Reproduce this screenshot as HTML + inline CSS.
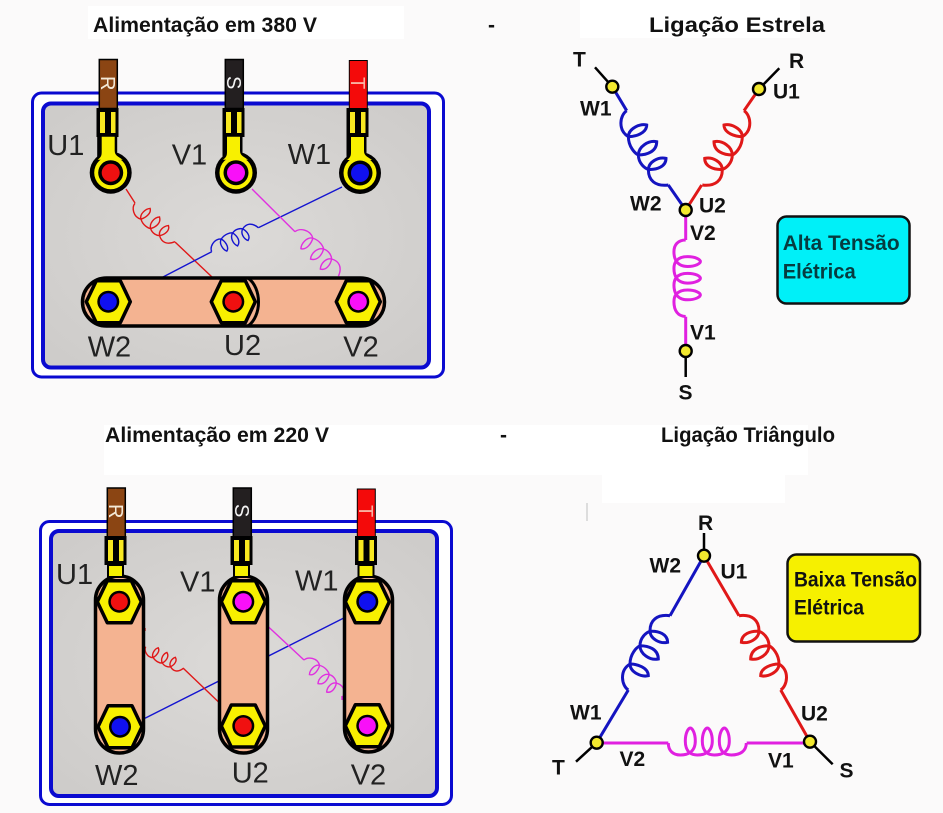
<!DOCTYPE html>
<html><head><meta charset="utf-8"><style>
html,body{margin:0;padding:0;background:#fbfafa}
svg{display:block}
.p{font-family:"Liberation Sans",sans-serif;font-size:29px;fill:#222}
.b{font-family:"Liberation Sans",sans-serif;font-size:21px;font-weight:bold;fill:#111}
.t{font-family:"Liberation Sans",sans-serif;font-size:21px;font-weight:bold;fill:#111}
.w{font-family:"Liberation Sans",sans-serif;font-size:20px}
.c{fill:none;vector-effect:non-scaling-stroke}
</style></head><body>
<svg xmlns="http://www.w3.org/2000/svg" width="943" height="813" viewBox="0 0 943 813">
<defs>
<radialGradient id="g" cx="50%" cy="50%" r="70%"><stop offset="0" stop-color="#dcdad8"/><stop offset="1" stop-color="#cdcbc9"/></radialGradient>
<path id="coil" class="c" d="M0,0C0,8 5,12 12,12C18,12 27,10 27,-2C27,-10 24,-15 22,-15C20,-15 17,-10 17,-2C17,10 24,12 29,12C35,12 44,10 44,-2C44,-10 41,-15 39,-15C37,-15 34,-10 34,-2C34,10 41,12 46,12C52,12 61,10 61,-2C61,-10 58,-15 56,-15C54,-15 51,-10 51,-2C51,10 58,12 63,12C72,12 78,8 78,0"/>
<path id="leaf" class="c" d="M0,0C-6.700,4.300 -9.300,19.300 1.700,26C8.300,26 20,22.700 20,14.300C13.300,12.700 1.700,17.700 1.700,26C1.700,36 8.300,42.700 11.700,44.300C20,44.300 30,41 30,31C21.700,29.300 11.700,36 11.700,44.300C11.700,52.700 18.300,57.700 21.700,58.700C30,59.300 39.300,56 39.300,47.700C31.700,46 21.700,51 21.700,59.300C21.700,69.300 28.300,76 41.700,74.300"/>
<g id="nut"><polygon points="-22,0 -12,-21 12,-21 22,0 12,21 -12,21" fill="#f8f000" stroke="#000" stroke-width="3.5" stroke-linejoin="round"/><circle r="11" fill="#000"/></g>
<g id="crimp"><rect x="-11" y="0" width="22" height="29" fill="#000"/><rect x="-7.5" y="4" width="5" height="21" fill="#f8e820"/><rect x="3.5" y="4" width="4.5" height="21" fill="#f8e820"/><rect x="-1" y="0" width="2" height="29" fill="#000"/></g>
<g id="lug"><rect x="-13.5" y="-38" width="20" height="30" fill="#000"/><circle r="21" fill="#000"/><path d="M-9,-36H4V-22C4,-17 8,-16 12,-13L-13,-13C-9,-16 -9,-18 -9,-22Z" fill="#f8f000"/><circle r="16.5" fill="#f8f000"/><circle r="12.5" fill="#000"/></g>
<g id="pt"><circle r="6" fill="#f2e82e" stroke="#000" stroke-width="2.4"/></g>
</defs>

<rect width="943" height="813" fill="#fbfafa"/>
<rect x="88" y="6" width="316" height="33" fill="#fff"/>
<rect x="580" y="0" width="220" height="38" fill="#fff"/>
<rect x="104" y="425" width="704" height="50" fill="#fff"/>
<rect x="602" y="475" width="183" height="28" fill="#fff"/>
<rect x="586" y="503" width="2" height="18" fill="#ddd"/>

<text class="t" x="93" y="32" textLength="224" lengthAdjust="spacingAndGlyphs">Alimentação em 380 V</text>
<text class="t" x="488" y="32">-</text>
<text class="t" x="649" y="32" textLength="176" lengthAdjust="spacingAndGlyphs">Ligação Estrela</text>
<text class="t" x="105" y="442" textLength="224" lengthAdjust="spacingAndGlyphs">Alimentação em 220 V</text>
<text class="t" x="500" y="442">-</text>
<text class="t" x="661" y="442" textLength="174" lengthAdjust="spacingAndGlyphs">Ligação Triângulo</text>

<!-- TOP PANEL -->
<rect x="32.5" y="93" width="411" height="284" rx="9" fill="#fff" stroke="#0a0ad0" stroke-width="3"/>
<rect x="43" y="103.500" width="386" height="264" rx="8" fill="url(#g)" stroke="#0a0ad0" stroke-width="4"/>

<g fill="none" stroke-width="1.400">
<g stroke="#e01818"><path d="M126,189L135,203M175,242L212,277"/><use href="#leaf" transform="translate(135,203.300) rotate(-16.900) scale(.65)"/></g>
<g stroke="#1414d0"><path d="M342,187L258.300,227.700M211.700,251.700L163,277"/><use href="#leaf" transform="translate(211.700,251.700) rotate(-146.600) scale(-.615,.615)"/></g>
<g stroke="#e030e0"><path d="M252,189L295,231.700"/><use href="#leaf" transform="translate(295,231.700) rotate(-73.600) scale(-.73,.73)"/></g>
</g>

<rect x="82.500" y="278" width="302" height="48" rx="24" fill="#f4b391" stroke="#000" stroke-width="3.500"/>
<path d="M248,278C262,288 262,316 248,326" fill="#f4b391" stroke="#000" stroke-width="3"/>
<use href="#nut" x="108.300" y="301.700"/><circle cx="108.300" cy="301.700" r="8.500" fill="#1010f0"/>
<use href="#nut" x="233.300" y="301.700"/><circle cx="233.300" cy="301.700" r="8.500" fill="#f01010"/>
<use href="#nut" x="358.300" y="301.700"/><circle cx="358.300" cy="301.700" r="8.500" fill="#f810f8"/>

<rect x="99.300" y="59.500" width="18" height="49" fill="#8b4513" stroke="#000" stroke-width="1.500"/>
<rect x="225.300" y="59.500" width="18" height="49" fill="#231f20" stroke="#000" stroke-width="1.500"/>
<rect x="349.300" y="60.500" width="18" height="48" fill="#f40a0a" stroke="#000" stroke-width="1"/>
<text class="w" fill="#f4ead8" transform="translate(101,76) rotate(90)">R</text>
<text class="w" fill="#f4f4f4" transform="translate(227,76) rotate(90)">S</text>
<text class="w" fill="#f8b0a0" transform="translate(351,77) rotate(90)">T</text>
<use href="#crimp" x="107.500" y="108"/><use href="#crimp" x="233.500" y="108"/><use href="#crimp" x="357.500" y="108"/>
<use href="#lug" x="110.700" y="172.700"/><circle cx="110.700" cy="172.700" r="9" fill="#f01010"/>
<use href="#lug" x="236" y="172.700"/><circle cx="236" cy="172.700" r="9" fill="#f810f8"/>
<use href="#lug" x="360" y="173"/><circle cx="360" cy="173" r="9" fill="#1010f0"/>

<text class="p" x="47.300" y="155">U1</text>
<text class="p" x="171.700" y="164.300">V1</text>
<text class="p" x="287.700" y="164">W1</text>
<text class="p" x="87.700" y="356.700">W2</text>
<text class="p" x="224" y="355">U2</text>
<text class="p" x="343.300" y="356.700">V2</text>

<!-- BOTTOM PANEL -->
<rect x="40.500" y="521.500" width="411" height="283" rx="9" fill="#fff" stroke="#0a0ad0" stroke-width="3"/>
<rect x="51" y="531" width="386" height="265" rx="8" fill="url(#g)" stroke="#0a0ad0" stroke-width="4"/>

<g fill="none" stroke-width="1.400">
<path stroke="#1414d0" d="M145,718.300L343.300,618.300"/>
<g stroke="#e01818"><path d="M183,668L218.300,701.700M145,628V631"/><use href="#leaf" transform="translate(145.700,646.700) rotate(-30.800) scale(.51)"/></g>
<g stroke="#e030e0"><path d="M268.300,626.700L304,660"/><use href="#leaf" transform="translate(304,660) rotate(-74.800) scale(-.635,.635)"/><path d="M342.500,696V700" stroke-width="2.500"/></g>
</g>

<rect x="95.500" y="576" width="48" height="177" rx="24" fill="#f4b391" stroke="#000" stroke-width="3.500"/>
<rect x="219.500" y="576" width="48" height="177" rx="24" fill="#f4b391" stroke="#000" stroke-width="3.500"/>
<rect x="344.500" y="576" width="48" height="176" rx="24" fill="#f4b391" stroke="#000" stroke-width="3.500"/>
<use href="#nut" x="119.300" y="601.700"/><circle cx="119.300" cy="601.700" r="8.500" fill="#f01010"/>
<use href="#nut" x="120" y="726.700"/><circle cx="120" cy="726.700" r="8.500" fill="#1010f0"/>
<use href="#nut" x="243.300" y="601.700"/><circle cx="243.300" cy="601.700" r="8.500" fill="#f810f8"/>
<use href="#nut" x="243.300" y="726"/><circle cx="243.300" cy="726" r="8.500" fill="#f01010"/>
<use href="#nut" x="367.300" y="601.700"/><circle cx="367.300" cy="601.700" r="8.500" fill="#1010f0"/>
<use href="#nut" x="367.300" y="725.700"/><circle cx="367.300" cy="725.700" r="8.500" fill="#f810f8"/>

<rect x="107.300" y="488" width="18" height="49" fill="#8b4513" stroke="#000" stroke-width="1.500"/>
<rect x="233.300" y="488" width="18" height="49" fill="#231f20" stroke="#000" stroke-width="1.500"/>
<rect x="357.300" y="489" width="18" height="48" fill="#f40a0a" stroke="#000" stroke-width="1"/>
<text class="w" fill="#f4ead8" transform="translate(109,504) rotate(90)">R</text>
<text class="w" fill="#f4f4f4" transform="translate(235,504) rotate(90)">S</text>
<text class="w" fill="#f8b0a0" transform="translate(359,505) rotate(90)">T</text>
<use href="#crimp" x="115.500" y="536"/><use href="#crimp" x="241.500" y="536"/><use href="#crimp" x="366" y="536"/>
<g fill="#f8f000" stroke="#000" stroke-width="2"><rect x="108" y="565" width="15" height="12"/><rect x="234" y="565" width="15" height="12"/><rect x="358.500" y="565" width="15" height="12"/></g>

<text class="p" x="56" y="584">U1</text>
<text class="p" x="180" y="591.700">V1</text>
<text class="p" x="295" y="590.700">W1</text>
<text class="p" x="95" y="785">W2</text>
<text class="p" x="231.700" y="782.700">U2</text>
<text class="p" x="350.700" y="784.300">V2</text>

<!-- STAR -->
<g fill="none" stroke-width="3">
<path stroke="#000" stroke-width="2.500" d="M595,67.300L612.300,86.700M779.300,68.300L759,89M685.700,351V377"/>
<g stroke="#1414c0"><path d="M612.300,86.700L626.700,110.700M668.300,185L685.700,210"/><use href="#leaf" transform="translate(626.700,110.700)"/></g>
<g stroke="#e01818"><path d="M759,89L744,110.700M701.700,185L685.700,210"/><use href="#leaf" transform="translate(744,110.700) scale(-1,1)"/></g>
<g stroke="#e020e0"><path d="M685.700,210V240M685.700,316.700V351"/><use href="#coil" transform="translate(685.700,240) rotate(90) scale(.98)"/></g>
</g>
<use href="#pt" x="612.300" y="86.700"/><use href="#pt" x="759" y="89"/><use href="#pt" x="685.700" y="210"/><use href="#pt" x="685.700" y="351"/>
<text class="b" x="573" y="66.700">T</text>
<text class="b" x="789" y="68">R</text>
<text class="b" x="580" y="115.500">W1</text>
<text class="b" x="773" y="98.300">U1</text>
<text class="b" x="630" y="210.700">W2</text>
<text class="b" x="699" y="212.700">U2</text>
<text class="b" x="690" y="240">V2</text>
<text class="b" x="690" y="339.300">V1</text>
<text class="b" x="678.500" y="399.300">S</text>

<rect x="777.500" y="216.500" width="132" height="87" rx="9" fill="#00f0f8" stroke="#111" stroke-width="2.500"/>
<text class="t" style="fill:#063c40" x="782.700" y="250" textLength="117" lengthAdjust="spacingAndGlyphs">Alta Tensão</text>
<text class="t" style="fill:#063c40" x="782.700" y="278.300" textLength="73" lengthAdjust="spacingAndGlyphs">Elétrica</text>

<!-- TRIANGLE -->
<g fill="none" stroke-width="3">
<path stroke="#000" stroke-width="2.500" d="M704,533V555.700M596.700,742.700L576,761.700M810,741.700L832.700,764.300"/>
<g stroke="#1414c0"><path d="M704,555.700L670,615.700M628.300,690L596.700,742.700"/><use href="#leaf" transform="translate(628.300,690) scale(1,-1)"/></g>
<g stroke="#e01818"><path d="M704,555.700L739,615.700M780.700,690L810,741.700"/><use href="#leaf" transform="translate(780.700,690) scale(-1,-1)"/></g>
<g stroke="#e020e0"><path d="M596.700,743H668.300M746.700,743H810"/><use href="#coil" transform="translate(668.300,743)"/></g>
</g>
<use href="#pt" x="704" y="555.700"/><use href="#pt" x="596.700" y="742.700"/><use href="#pt" x="810" y="741.700"/>
<text class="b" x="698" y="530">R</text>
<text class="b" x="649.500" y="572.700">W2</text>
<text class="b" x="720.500" y="578.300">U1</text>
<text class="b" x="570" y="719.300">W1</text>
<text class="b" x="801" y="720.700">U2</text>
<text class="b" x="552" y="774.300">T</text>
<text class="b" x="619.500" y="766">V2</text>
<text class="b" x="768" y="767.300">V1</text>
<text class="b" x="839.500" y="777.700">S</text>

<rect x="787.500" y="554.500" width="132.500" height="87" rx="9" fill="#f6f000" stroke="#111" stroke-width="2.500"/>
<text class="t" x="794" y="586.700" textLength="123" lengthAdjust="spacingAndGlyphs">Baixa Tensão</text>
<text class="t" x="794" y="614.300" textLength="70" lengthAdjust="spacingAndGlyphs">Elétrica</text>
</svg>
</body></html>
